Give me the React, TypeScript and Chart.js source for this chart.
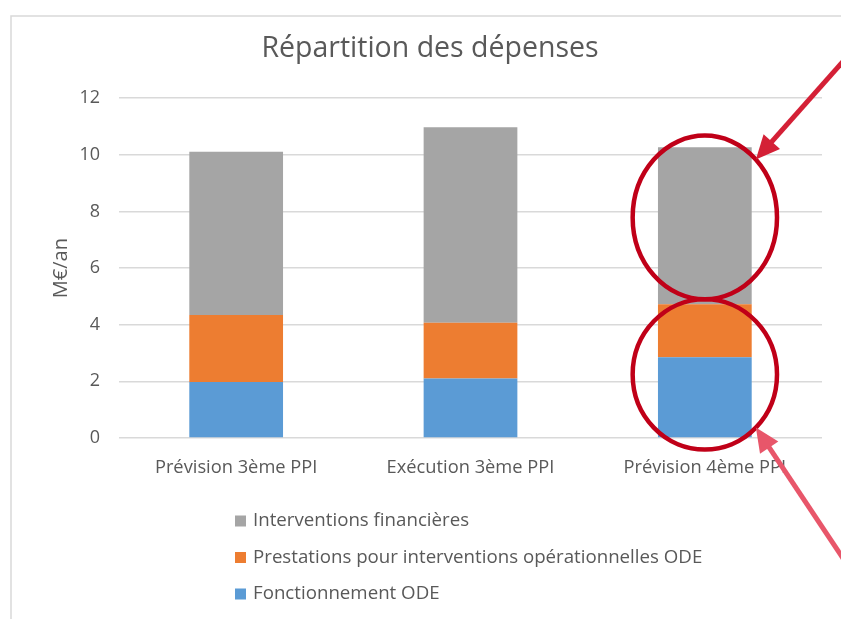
import React, { useEffect, useRef } from "react";
import { Chart, registerables } from "chart.js";

Chart.register(...registerables);

const categories = ["Prévision 3ème PPI", "Exécution 3ème PPI", "Prévision 4ème PPI"];
const fonctionnement = [1.98, 2.1, 2.85];
const prestations = [2.36, 1.97, 1.87];
const interventions = [5.77, 6.9, 5.55];
const yTicks = [0, 2, 4, 6, 8, 10, 12];

const seriesNames = [
  "Fonctionnement ODE",
  "Prestations pour interventions opérationnelles ODE",
  "Interventions financières",
];
const seriesColors = ["#5B9BD5", "#ED7D31", "#A5A5A5"];

const FONT = "'Open Sans', Lato, sans-serif";
const TEXT = "#595959";

const framePlugin = {
  id: "frame",
  beforeDraw(chart: any) {
    const ctx = chart.ctx;
    ctx.save();
    ctx.fillStyle = "#ffffff";
    ctx.fillRect(0, 0, chart.width, chart.height);
    ctx.strokeStyle = "#d9d9d9";
    ctx.lineWidth = 1.5;
    ctx.strokeRect(11, 16, chart.width + 20, chart.height + 20);
    ctx.restore();
  },
};

const legendPlugin = {
  id: "vlegend",
  afterDraw(chart: any) {
    const ctx = chart.ctx;
    const x0 = 235;
    const yStart = chart.chartArea.bottom + 83;
    const gap = 36.5;
    ctx.save();
    ctx.font = `18.7px ${FONT}`;
    ctx.textBaseline = "middle";
    ctx.textAlign = "left";
    const order = [2, 1, 0];
    order.forEach((si, i) => {
      const y = yStart + i * gap;
      ctx.fillStyle = seriesColors[si];
      ctx.fillRect(x0, y - 5.5, 11, 11);
      ctx.fillStyle = TEXT;
      ctx.fillText(seriesNames[si], x0 + 18, y);
    });
    ctx.restore();
  },
};

function arrow(ctx: any, x1: number, y1: number, x2: number, y2: number, color: string) {
  const ang = Math.atan2(y2 - y1, x2 - x1);
  const head = 24;
  const half = 11;
  const bx = x2 - head * Math.cos(ang);
  const by = y2 - head * Math.sin(ang);
  ctx.save();
  ctx.strokeStyle = color;
  ctx.fillStyle = color;
  ctx.lineWidth = 5;
  ctx.beginPath();
  ctx.moveTo(x1, y1);
  ctx.lineTo(bx + 4 * Math.cos(ang), by + 4 * Math.sin(ang));
  ctx.stroke();
  ctx.beginPath();
  ctx.moveTo(x2, y2);
  ctx.lineTo(bx + half * Math.sin(ang), by - half * Math.cos(ang));
  ctx.lineTo(bx - half * Math.sin(ang), by + half * Math.cos(ang));
  ctx.closePath();
  ctx.fill();
  ctx.restore();
}

const annotationPlugin = {
  id: "marks",
  afterDraw(chart: any) {
    const ctx = chart.ctx;
    const meta = chart.getDatasetMeta(2);
    const bar = meta.data[2];
    const yS = chart.scales.y;
    const cx = bar.x;
    const rx = bar.width * 0.77;
    const ellipses = [
      [10.68, 4.9],
      [4.9, -0.41],
    ];
    const tips: number[][] = [];
    ellipses.forEach(([top, bottom], i) => {
      const yt = yS.getPixelForValue(top);
      const yb = yS.getPixelForValue(bottom);
      const cy = (yt + yb) / 2;
      const ry = (yb - yt) / 2;
      ctx.save();
      ctx.strokeStyle = "#C00018";
      ctx.lineWidth = 4.5;
      ctx.beginPath();
      ctx.ellipse(cx, cy, rx, ry, 0, 0, Math.PI * 2);
      ctx.stroke();
      ctx.restore();
      const a = Math.PI / 4;
      tips.push([cx + rx * Math.cos(a), i === 0 ? cy - ry * Math.sin(a) : cy + ry * Math.sin(a)]);
    });
    arrow(ctx, tips[0][0] + 95, tips[0][1] - 107, tips[0][0], tips[0][1], "#D42036");
    arrow(ctx, tips[1][0] + 100, tips[1][1] + 150, tips[1][0], tips[1][1], "#E8566A");
  },
};

export default function App() {
  const ref = useRef<HTMLCanvasElement>(null);
  useEffect(() => {
    if (!ref.current) return;
    const chart = new Chart(ref.current, {
      type: "bar",
      data: {
        labels: categories,
        datasets: [
          { label: seriesNames[0], data: fonctionnement, backgroundColor: seriesColors[0] },
          { label: seriesNames[1], data: prestations, backgroundColor: seriesColors[1] },
          { label: seriesNames[2], data: interventions, backgroundColor: seriesColors[2] },
        ],
      },
      options: {
        responsive: false,
        animation: false,
        layout: { padding: { left: 38, right: 19, top: 0, bottom: 141 } },
        datasets: { bar: { barPercentage: 0.4, categoryPercentage: 1 } } as any,
        plugins: {
          legend: { display: false },
          tooltip: { enabled: false },
          title: {
            display: true,
            text: "Répartition des dépenses",
            color: TEXT,
            font: { family: FONT, size: 28.5, weight: "normal" },
            padding: { top: 32, bottom: 32 },
          },
        },
        scales: {
          x: {
            stacked: true,
            grid: { display: false },
            border: { display: false },
            ticks: { color: TEXT, font: { family: FONT, size: 18.3 }, padding: 11, maxRotation: 0 },
            afterFit: (s: any) => { s.height = 40; },
          },
          y: {
            stacked: true,
            min: 0,
            max: 12,
            afterBuildTicks: (s: any) => { s.ticks = yTicks.map((v) => ({ value: v })); },
            grid: { color: "#d9d9d9", lineWidth: 1.5, drawTicks: false },
            border: { display: false },
            ticks: { color: TEXT, font: { family: FONT, size: 18 }, padding: 19 },
            title: {
              display: true,
              text: "M€/an",
              color: TEXT,
              font: { family: FONT, size: 20 },
              padding: { top: 11, bottom: 0 },
            },
            afterFit: (s: any) => { s.width = 81; },
          },
        },
      },
      plugins: [framePlugin, legendPlugin, annotationPlugin],
    });
    return () => chart.destroy();
  }, []);
  return (
    <div style={{ position: "fixed", left: 0, top: 0, width: 841, height: 619, background: "#fff" }}>
      <canvas ref={ref} width={841} height={619} style={{ display: "block" }} />
    </div>
  );
}
